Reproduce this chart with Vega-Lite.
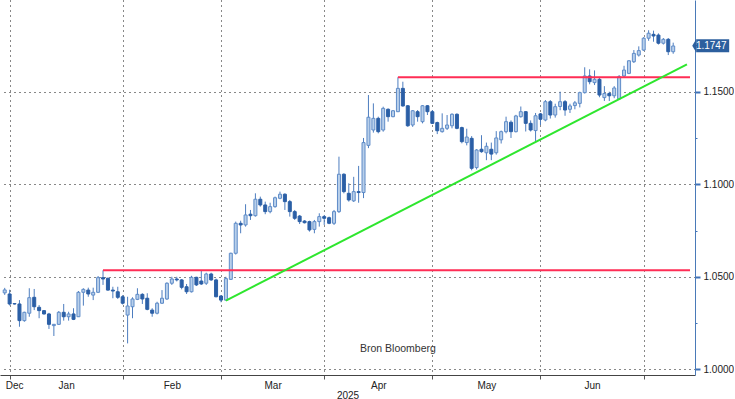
{
"$schema":"https://vega.github.io/schema/vega-lite/v6.json",
"width":695,"height":375,"padding":0,"autosize":{"type":"pad"},"background":"#ffffff",
"config":{"view":{"stroke":null},"font":"Liberation Sans"},
"datasets":{
"candles":[
{"d":"2024-12-30","i":-1,"o":1.0413,"h":1.0440,"l":1.0402,"c":1.0429},
{"d":"2024-12-31","i":0,"o":1.0407,"h":1.0430,"l":1.0345,"c":1.0353},
{"d":"2025-01-01","i":1,"o":1.0355,"h":1.0358,"l":1.0350,"c":1.0353},
{"d":"2025-01-02","i":2,"o":1.0353,"h":1.0374,"l":1.0230,"c":1.0263},
{"d":"2025-01-03","i":3,"o":1.0263,"h":1.0311,"l":1.0257,"c":1.0308},
{"d":"2025-01-06","i":4,"o":1.0303,"h":1.0438,"l":1.0284,"c":1.0387},
{"d":"2025-01-07","i":5,"o":1.0389,"h":1.0434,"l":1.0320,"c":1.0338},
{"d":"2025-01-08","i":6,"o":1.0335,"h":1.0347,"l":1.0276,"c":1.0317},
{"d":"2025-01-09","i":7,"o":1.0317,"h":1.0320,"l":1.0296,"c":1.0299},
{"d":"2025-01-10","i":8,"o":1.0299,"h":1.0305,"l":1.0218,"c":1.0243},
{"d":"2025-01-13","i":9,"o":1.0236,"h":1.0245,"l":1.0180,"c":1.0243},
{"d":"2025-01-14","i":10,"o":1.0243,"h":1.0315,"l":1.0240,"c":1.0308},
{"d":"2025-01-15","i":11,"o":1.0308,"h":1.0353,"l":1.0263,"c":1.0284},
{"d":"2025-01-16","i":12,"o":1.0284,"h":1.0311,"l":1.0263,"c":1.0299},
{"d":"2025-01-17","i":13,"o":1.0299,"h":1.0330,"l":1.0266,"c":1.0270},
{"d":"2025-01-20","i":14,"o":1.0284,"h":1.0423,"l":1.0283,"c":1.0416},
{"d":"2025-01-21","i":15,"o":1.0416,"h":1.0438,"l":1.0344,"c":1.0432},
{"d":"2025-01-22","i":16,"o":1.0428,"h":1.0441,"l":1.0392,"c":1.0407},
{"d":"2025-01-23","i":17,"o":1.0401,"h":1.0441,"l":1.0374,"c":1.0416},
{"d":"2025-01-24","i":18,"o":1.0416,"h":1.0504,"l":1.0412,"c":1.0495},
{"d":"2025-01-27","i":19,"o":1.0495,"h":1.0535,"l":1.0456,"c":1.0488},
{"d":"2025-01-28","i":20,"o":1.0492,"h":1.0495,"l":1.0425,"c":1.0428},
{"d":"2025-01-29","i":21,"o":1.0428,"h":1.0446,"l":1.0384,"c":1.0423},
{"d":"2025-01-30","i":22,"o":1.0419,"h":1.0446,"l":1.0380,"c":1.0389},
{"d":"2025-01-31","i":23,"o":1.0392,"h":1.0401,"l":1.0350,"c":1.0357},
{"d":"2025-02-03","i":24,"o":1.0293,"h":1.0392,"l":1.0140,"c":1.0342},
{"d":"2025-02-04","i":25,"o":1.0338,"h":1.0389,"l":1.0276,"c":1.0380},
{"d":"2025-02-05","i":26,"o":1.0378,"h":1.0438,"l":1.0374,"c":1.0405},
{"d":"2025-02-06","i":27,"o":1.0405,"h":1.0411,"l":1.0353,"c":1.0380},
{"d":"2025-02-07","i":28,"o":1.0384,"h":1.0411,"l":1.0319,"c":1.0324},
{"d":"2025-02-10","i":29,"o":1.0320,"h":1.0330,"l":1.0284,"c":1.0303},
{"d":"2025-02-11","i":30,"o":1.0303,"h":1.0365,"l":1.0297,"c":1.0357},
{"d":"2025-02-12","i":31,"o":1.0357,"h":1.0428,"l":1.0353,"c":1.0384},
{"d":"2025-02-13","i":32,"o":1.0380,"h":1.0470,"l":1.0375,"c":1.0465},
{"d":"2025-02-14","i":33,"o":1.0465,"h":1.0500,"l":1.0456,"c":1.0488},
{"d":"2025-02-17","i":34,"o":1.0488,"h":1.0500,"l":1.0475,"c":1.0483},
{"d":"2025-02-18","i":35,"o":1.0483,"h":1.0488,"l":1.0432,"c":1.0443},
{"d":"2025-02-19","i":36,"o":1.0446,"h":1.0461,"l":1.0407,"c":1.0419},
{"d":"2025-02-20","i":37,"o":1.0419,"h":1.0505,"l":1.0415,"c":1.0497},
{"d":"2025-02-21","i":38,"o":1.0497,"h":1.0500,"l":1.0450,"c":1.0456},
{"d":"2025-02-24","i":39,"o":1.0477,"h":1.0533,"l":1.0456,"c":1.0461},
{"d":"2025-02-25","i":40,"o":1.0465,"h":1.0522,"l":1.0456,"c":1.0515},
{"d":"2025-02-26","i":41,"o":1.0515,"h":1.0522,"l":1.0478,"c":1.0483},
{"d":"2025-02-27","i":42,"o":1.0483,"h":1.0490,"l":1.0389,"c":1.0392},
{"d":"2025-02-28","i":43,"o":1.0396,"h":1.0401,"l":1.0362,"c":1.0374},
{"d":"2025-03-03","i":44,"o":1.0374,"h":1.0500,"l":1.0371,"c":1.0490},
{"d":"2025-03-04","i":45,"o":1.0486,"h":1.0630,"l":1.0483,"c":1.0627},
{"d":"2025-03-05","i":46,"o":1.0627,"h":1.0798,"l":1.0620,"c":1.0789},
{"d":"2025-03-06","i":47,"o":1.0789,"h":1.0803,"l":1.0735,"c":1.0780},
{"d":"2025-03-07","i":48,"o":1.0780,"h":1.0892,"l":1.0771,"c":1.0834},
{"d":"2025-03-10","i":49,"o":1.0838,"h":1.0861,"l":1.0807,"c":1.0830},
{"d":"2025-03-11","i":50,"o":1.0830,"h":1.0951,"l":1.0825,"c":1.0919},
{"d":"2025-03-12","i":51,"o":1.0919,"h":1.0933,"l":1.0879,"c":1.0888},
{"d":"2025-03-13","i":52,"o":1.0888,"h":1.0906,"l":1.0838,"c":1.0852},
{"d":"2025-03-14","i":53,"o":1.0852,"h":1.0900,"l":1.0843,"c":1.0879},
{"d":"2025-03-17","i":54,"o":1.0879,"h":1.0933,"l":1.0873,"c":1.0927},
{"d":"2025-03-18","i":55,"o":1.0924,"h":1.0960,"l":1.0919,"c":1.0946},
{"d":"2025-03-19","i":56,"o":1.0946,"h":1.0951,"l":1.0861,"c":1.0906},
{"d":"2025-03-20","i":57,"o":1.0906,"h":1.0915,"l":1.0825,"c":1.0852},
{"d":"2025-03-21","i":58,"o":1.0852,"h":1.0861,"l":1.0807,"c":1.0816},
{"d":"2025-03-24","i":59,"o":1.0828,"h":1.0834,"l":1.0785,"c":1.0798},
{"d":"2025-03-25","i":60,"o":1.0801,"h":1.0806,"l":1.0788,"c":1.0792},
{"d":"2025-03-26","i":61,"o":1.0798,"h":1.0803,"l":1.0744,"c":1.0753},
{"d":"2025-03-27","i":62,"o":1.0756,"h":1.0807,"l":1.0735,"c":1.0798},
{"d":"2025-03-28","i":63,"o":1.0798,"h":1.0843,"l":1.0771,"c":1.0825},
{"d":"2025-03-31","i":64,"o":1.0825,"h":1.0834,"l":1.0780,"c":1.0816},
{"d":"2025-04-01","i":65,"o":1.0819,"h":1.0825,"l":1.0784,"c":1.0789},
{"d":"2025-04-02","i":66,"o":1.0789,"h":1.0861,"l":1.0780,"c":1.0852},
{"d":"2025-04-03","i":67,"o":1.0852,"h":1.1149,"l":1.0845,"c":1.1054},
{"d":"2025-04-04","i":68,"o":1.1054,"h":1.1059,"l":1.0951,"c":1.0960},
{"d":"2025-04-07","i":69,"o":1.0951,"h":1.1005,"l":1.0906,"c":1.0915},
{"d":"2025-04-08","i":70,"o":1.0910,"h":1.1040,"l":1.0904,"c":1.0960},
{"d":"2025-04-09","i":71,"o":1.0960,"h":1.1099,"l":1.0900,"c":1.0955},
{"d":"2025-04-10","i":72,"o":1.0955,"h":1.1250,"l":1.0925,"c":1.1225},
{"d":"2025-04-11","i":73,"o":1.1210,"h":1.1482,"l":1.1195,"c":1.1362},
{"d":"2025-04-14","i":74,"o":1.1293,"h":1.1437,"l":1.1279,"c":1.1356},
{"d":"2025-04-15","i":75,"o":1.1356,"h":1.1365,"l":1.1275,"c":1.1284},
{"d":"2025-04-16","i":76,"o":1.1293,"h":1.1419,"l":1.1284,"c":1.1410},
{"d":"2025-04-17","i":77,"o":1.1405,"h":1.1410,"l":1.1338,"c":1.1365},
{"d":"2025-04-18","i":78,"o":1.1365,"h":1.1401,"l":1.1362,"c":1.1397},
{"d":"2025-04-21","i":79,"o":1.1392,"h":1.1578,"l":1.1390,"c":1.1518},
{"d":"2025-04-22","i":80,"o":1.1518,"h":1.1554,"l":1.1419,"c":1.1423},
{"d":"2025-04-23","i":81,"o":1.1424,"h":1.1428,"l":1.1310,"c":1.1316},
{"d":"2025-04-24","i":82,"o":1.1320,"h":1.1401,"l":1.1310,"c":1.1397},
{"d":"2025-04-25","i":83,"o":1.1392,"h":1.1401,"l":1.1338,"c":1.1365},
{"d":"2025-04-28","i":84,"o":1.1338,"h":1.1428,"l":1.1329,"c":1.1424},
{"d":"2025-04-29","i":85,"o":1.1424,"h":1.1428,"l":1.1374,"c":1.1392},
{"d":"2025-04-30","i":86,"o":1.1392,"h":1.1401,"l":1.1325,"c":1.1329},
{"d":"2025-05-01","i":87,"o":1.1333,"h":1.1338,"l":1.1271,"c":1.1289},
{"d":"2025-05-02","i":88,"o":1.1284,"h":1.1383,"l":1.1279,"c":1.1302},
{"d":"2025-05-05","i":89,"o":1.1302,"h":1.1374,"l":1.1293,"c":1.1320},
{"d":"2025-05-06","i":90,"o":1.1316,"h":1.1383,"l":1.1302,"c":1.1378},
{"d":"2025-05-07","i":91,"o":1.1378,"h":1.1383,"l":1.1297,"c":1.1302},
{"d":"2025-05-08","i":92,"o":1.1306,"h":1.1311,"l":1.1221,"c":1.1230},
{"d":"2025-05-09","i":93,"o":1.1225,"h":1.1300,"l":1.1210,"c":1.1255},
{"d":"2025-05-12","i":94,"o":1.1248,"h":1.1260,"l":1.1075,"c":1.1086},
{"d":"2025-05-13","i":95,"o":1.1090,"h":1.1190,"l":1.1080,"c":1.1185},
{"d":"2025-05-14","i":96,"o":1.1189,"h":1.1265,"l":1.1170,"c":1.1176},
{"d":"2025-05-15","i":97,"o":1.1170,"h":1.1225,"l":1.1130,"c":1.1205},
{"d":"2025-05-16","i":98,"o":1.1189,"h":1.1225,"l":1.1130,"c":1.1163},
{"d":"2025-05-19","i":99,"o":1.1170,"h":1.1287,"l":1.1160,"c":1.1250},
{"d":"2025-05-20","i":100,"o":1.1240,"h":1.1290,"l":1.1220,"c":1.1284},
{"d":"2025-05-21","i":101,"o":1.1284,"h":1.1365,"l":1.1275,"c":1.1338},
{"d":"2025-05-22","i":102,"o":1.1335,"h":1.1345,"l":1.1250,"c":1.1284},
{"d":"2025-05-23","i":103,"o":1.1284,"h":1.1375,"l":1.1280,"c":1.1369},
{"d":"2025-05-26","i":104,"o":1.1365,"h":1.1420,"l":1.1360,"c":1.1392},
{"d":"2025-05-27","i":105,"o":1.1392,"h":1.1395,"l":1.1285,"c":1.1329},
{"d":"2025-05-28","i":106,"o":1.1329,"h":1.1345,"l":1.1285,"c":1.1293},
{"d":"2025-05-29","i":107,"o":1.1290,"h":1.1385,"l":1.1228,"c":1.1370},
{"d":"2025-05-30","i":108,"o":1.1380,"h":1.1385,"l":1.1320,"c":1.1351},
{"d":"2025-06-02","i":109,"o":1.1347,"h":1.1455,"l":1.1340,"c":1.1446},
{"d":"2025-06-03","i":110,"o":1.1446,"h":1.1455,"l":1.1355,"c":1.1374},
{"d":"2025-06-04","i":111,"o":1.1374,"h":1.1435,"l":1.1360,"c":1.1419},
{"d":"2025-06-05","i":112,"o":1.1420,"h":1.1500,"l":1.1400,"c":1.1446},
{"d":"2025-06-06","i":113,"o":1.1446,"h":1.1455,"l":1.1370,"c":1.1401},
{"d":"2025-06-09","i":114,"o":1.1405,"h":1.1435,"l":1.1385,"c":1.1423},
{"d":"2025-06-10","i":115,"o":1.1425,"h":1.1450,"l":1.1405,"c":1.1440},
{"d":"2025-06-11","i":116,"o":1.1437,"h":1.1500,"l":1.1415,"c":1.1495},
{"d":"2025-06-12","i":117,"o":1.1495,"h":1.1632,"l":1.1490,"c":1.1585},
{"d":"2025-06-13","i":118,"o":1.1585,"h":1.1621,"l":1.1540,"c":1.1554},
{"d":"2025-06-16","i":119,"o":1.1549,"h":1.1615,"l":1.1536,"c":1.1567},
{"d":"2025-06-17","i":120,"o":1.1567,"h":1.1580,"l":1.1470,"c":1.1482},
{"d":"2025-06-18","i":121,"o":1.1468,"h":1.1530,"l":1.1450,"c":1.1490},
{"d":"2025-06-19","i":122,"o":1.1490,"h":1.1500,"l":1.1450,"c":1.1478},
{"d":"2025-06-20","i":123,"o":1.1478,"h":1.1530,"l":1.1465,"c":1.1520},
{"d":"2025-06-23","i":124,"o":1.1461,"h":1.1590,"l":1.1455,"c":1.1581},
{"d":"2025-06-24","i":125,"o":1.1585,"h":1.1640,"l":1.1575,"c":1.1617},
{"d":"2025-06-25","i":126,"o":1.1599,"h":1.1670,"l":1.1595,"c":1.1667},
{"d":"2025-06-26","i":127,"o":1.1662,"h":1.1725,"l":1.1655,"c":1.1707},
{"d":"2025-06-27","i":128,"o":1.1698,"h":1.1745,"l":1.1690,"c":1.1722},
{"d":"2025-06-30","i":129,"o":1.1725,"h":1.1795,"l":1.1720,"c":1.1789},
{"d":"2025-07-01","i":130,"o":1.1789,"h":1.1832,"l":1.1775,"c":1.1816},
{"d":"2025-07-02","i":131,"o":1.1810,"h":1.1830,"l":1.1770,"c":1.1801},
{"d":"2025-07-03","i":132,"o":1.1806,"h":1.1815,"l":1.1755,"c":1.1762},
{"d":"2025-07-04","i":133,"o":1.1762,"h":1.1790,"l":1.1755,"c":1.1783},
{"d":"2025-07-07","i":134,"o":1.1783,"h":1.1790,"l":1.1698,"c":1.1716},
{"d":"2025-07-08","i":135,"o":1.1716,"h":1.1765,"l":1.1705,"c":1.1747}
],
"levels":[{"name":"Jan high","x1":19,"x2":138.42,"p":1.0535},{"name":"Apr high","x1":79,"x2":138.42,"p":1.1578}],
"trend":[{"i":44,"p":1.0371},{"i":137.8,"p":1.1648}],
"note":[{"i":79,"p":1.011,"t":"Bron Bloomberg"}]
},
"layer":[
{"data":{"name":"candles"},
 "mark":{"type":"rule","clip":true,"color":"#4d7dbf","strokeWidth":1},
 "encoding":{
  "x":{"field":"i","type":"quantitative","scale":{"domain":[-0.9425,138.42],"nice":false,"zero":false},
   "axis":{"values":[0,0.9,11.5,23,33,43,53.5,64,75,86,97,108,118.5,129],
    "labelExpr":"datum.value==0.9?'Dec':datum.value==11.5?'Jan':datum.value==33?'Feb':datum.value==53.5?'Mar':datum.value==75?'Apr':datum.value==97?'May':datum.value==118.5?'Jun':''",
    "grid":true,"gridColor":"#111111","gridDash":[1,4],"gridWidth":1,
    "gridOpacity":{"condition":{"test":"indexof([0,23,43,64,86,108,129],datum.value)>=0","value":1},"value":0},
    "ticks":true,"tickSize":4,"tickColor":"#555555",
    "tickOpacity":{"condition":{"test":"indexof([0,23,43,64,86,108,129],datum.value)>=0","value":1},"value":0},
    "domainColor":"#444444","domainWidth":1,
    "labelFontSize":10,"labelColor":"#222222","labelPadding":1,"labelOverlap":false,"labelFlush":false,"labelBound":false,
    "title":"2025","titleFontSize":10,"titleFontWeight":"normal","titleColor":"#222222","titlePadding":0}},
  "y":{"field":"l","type":"quantitative","scale":{"domain":[0.99692,1.19955],"nice":false,"zero":false},
   "axis":{"orient":"right","values":[1,1.025,1.05,1.075,1.1,1.125,1.15,1.175],"format":".4f",
    "labelExpr":"indexof([1,1.05,1.1,1.15],datum.value)>=0?datum.label:''",
    "grid":true,"gridColor":"#111111","gridDash":[1,4],"gridWidth":1,
    "gridOpacity":{"condition":{"test":"indexof([1,1.05,1.1,1.15],datum.value)>=0","value":1},"value":0},
    "tickColor":"#3f72b8",
    "tickSize":{"condition":{"test":"indexof([1,1.05,1.1,1.15],datum.value)>=0","value":5},"value":2},
    "tickWidth":{"condition":{"test":"indexof([1,1.05,1.1,1.15],datum.value)>=0","value":2},"value":1},
    "domainColor":"#4a7ab8","domainWidth":1,
    "labelFontSize":10,"labelColor":"#222222","labelPadding":3,"labelOverlap":false,"labelFlush":false,"labelBound":false,
    "title":null}},
  "y2":{"field":"h"}}},
{"data":{"name":"candles"},
 "mark":{"type":"bar","clip":true,"size":3,"strokeWidth":1},
 "encoding":{
  "x":{"field":"i","type":"quantitative"},
  "y":{"field":"o","type":"quantitative"},
  "y2":{"field":"c"},
  "fill":{"condition":{"test":"datum.c >= datum.o","value":"#b8cfea"},"value":"#2b5fa6"},
  "stroke":{"condition":{"test":"datum.c >= datum.o","value":"#5f8cc8"},"value":"#2b5fa6"}}},
{"data":{"name":"levels"},
 "mark":{"type":"rule","clip":true,"color":"#ff2d55","strokeWidth":2},
 "encoding":{
  "x":{"field":"x1","type":"quantitative"},
  "x2":{"field":"x2"},
  "y":{"field":"p","type":"quantitative"}}},
{"data":{"name":"trend"},
 "mark":{"type":"line","clip":true,"color":"#2ee62e","strokeWidth":2},
 "encoding":{
  "x":{"field":"i","type":"quantitative"},
  "y":{"field":"p","type":"quantitative"}}},
{"data":{"name":"note"},
 "mark":{"type":"text","color":"#333333","fontSize":10.5,"align":"center","baseline":"middle"},
 "encoding":{
  "x":{"field":"i","type":"quantitative"},
  "y":{"field":"p","type":"quantitative"},
  "text":{"field":"t"}}},
{"data":{"name":"candles"},
 "transform":[{"filter":"datum.i == 135"}],
 "mark":{"type":"rect","clip":false,"fill":"#2c5f9e","xOffset":23,"x2Offset":56,"yOffset":-6.8,"y2Offset":6.2},
 "encoding":{
  "x":{"field":"i","type":"quantitative"},
  "x2":{"field":"i"},
  "y":{"field":"c","type":"quantitative"},
  "y2":{"field":"c"}}},
{"data":{"name":"candles"},
 "transform":[{"filter":"datum.i == 135"}],
 "mark":{"type":"point","clip":false,"filled":true,"fill":"#2c5f9e","opacity":1,"strokeWidth":0,"size":169,"shape":"M-0.3,0L0.3,-1L0.3,1Z","xOffset":21,"yOffset":-0.3},
 "encoding":{
  "x":{"field":"i","type":"quantitative"},
  "y":{"field":"c","type":"quantitative"}}},
{"data":{"name":"candles"},
 "transform":[{"filter":"datum.i == 135"}],
 "mark":{"type":"text","clip":false,"color":"#ffffff","fontSize":10,"align":"center","baseline":"middle","dx":38},
 "encoding":{
  "x":{"field":"i","type":"quantitative"},
  "y":{"field":"c","type":"quantitative"},
  "text":{"field":"c","format":".4f"}}}
]
}
